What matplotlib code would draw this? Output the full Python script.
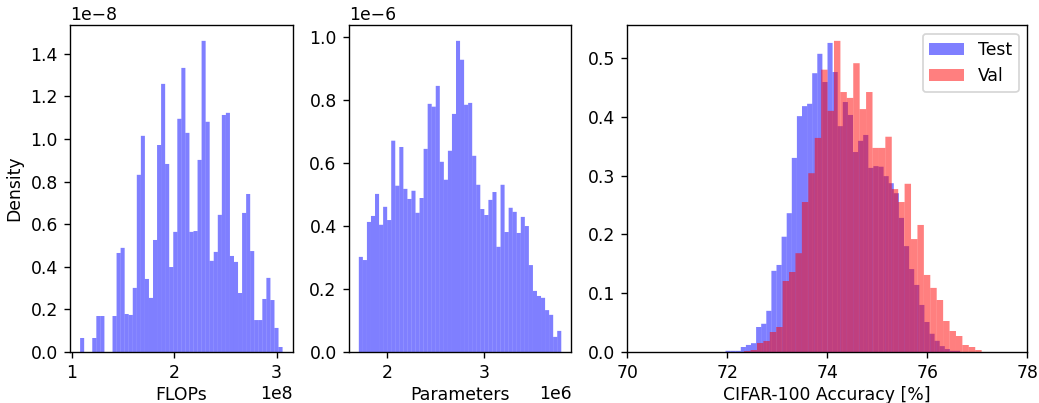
import numpy as np
import matplotlib
matplotlib.use("Agg")
import matplotlib.pyplot as plt

# ---------------- data ----------------
# FLOPs histogram (density, 50 bins)
flops_range = (1.081e8, 3.058e8)
flops_density_e8 = [0.0658, 0, 0, 0.0658, 0.169, 0.169, 0, 0, 0.169, 0.465,
                    0.489, 0.1785, 0.174, 0.301, 0.832, 1.015, 0.343, 0.254, 0.526, 0.972,
                    1.259, 0.883, 0.399, 0.564, 1.095, 1.334, 1.029, 0.564, 0.568, 0.902,
                    1.461, 1.081, 0.428, 0.470, 0.644, 1.113, 1.123, 0.451, 0.423, 0.277,
                    0.653, 0.742, 0.474, 0.150, 0.150, 0.249, 0.348, 0.244, 0.113, 0.0235]

# Parameters histogram (density, 50 bins)
params_range = (1.708e6, 3.794e6)
params_density_e6 = [0.302, 0.292, 0.413, 0.432, 0.502, 0.404, 0.461, 0.419, 0.671, 0.528,
                     0.651, 0.518, 0.486, 0.512, 0.442, 0.489, 0.645, 0.788, 0.779, 0.845,
                     0.604, 0.547, 0.639, 0.756, 0.988, 0.928, 0.785, 0.791, 0.623, 0.531,
                     0.454, 0.435, 0.483, 0.508, 0.334, 0.531, 0.381, 0.458, 0.445, 0.378,
                     0.429, 0.400, 0.276, 0.194, 0.178, 0.172, 0.133, 0.118, 0.048, 0.067]

# CIFAR-100 accuracy histograms (density)
test_range = (71.964, 76.656)
test_density = [0.002, 0.002, 0.002, 0.0085, 0.012, 0.015, 0.0425, 0.048, 0.070, 0.138,
                0.148, 0.196, 0.236, 0.330, 0.401, 0.418, 0.422, 0.474, 0.507, 0.459,
                0.5255, 0.476, 0.384, 0.425, 0.403, 0.340, 0.359, 0.369, 0.313, 0.316,
                0.315, 0.299, 0.287, 0.270, 0.228, 0.180, 0.141, 0.114, 0.080, 0.051,
                0.031, 0.019, 0.010, 0.005, 0.002, 0.002]

val_range = (72.336, 77.087)
val_density = [0.0017, 0.0034, 0.0153, 0.0187, 0.034, 0.0425, 0.1207, 0.136, 0.168, 0.255,
               0.304, 0.364, 0.480, 0.41, 0.529, 0.442, 0.432, 0.491, 0.413, 0.442,
               0.347, 0.347, 0.366, 0.277, 0.255, 0.286, 0.192, 0.216, 0.131, 0.109,
               0.0884, 0.0527, 0.0357, 0.0272, 0.0119, 0.0085, 0.0034]

acc_ticks = [70, 72, 74, 76, 78]
series_labels = ["Test", "Val"]
x_labels = ["FLOPs", "Parameters", "CIFAR-100 Accuracy [%]"]
y_label = "Density"

plt.rcParams["font.size"] = 10


def draw_hist(ax, rng, heights, scale_y, **kw):
    n = len(heights)
    edges = np.linspace(rng[0], rng[1], n + 1)
    centers = 0.5 * (edges[:-1] + edges[1:])
    w = np.asarray(heights, dtype=float) * scale_y
    _, _, patches = ax.hist(centers, bins=edges, weights=w, **kw)
    for p in patches:
        p.set_snap(False)
    return patches


DPI = 124
W, H = 1039, 403
fig = plt.figure(figsize=(W / DPI, H / DPI), dpi=DPI)


def px_axes(x0, x1, ytop, ybot):
    return fig.add_axes([x0 / W, 1 - ybot / H, (x1 - x0) / W, (ybot - ytop) / H])


ax1 = px_axes(70, 292.7, 25.3, 352)
ax2 = px_axes(348.7, 571.4, 25.3, 352)
ax3 = px_axes(627.3, 1027.3, 25.3, 352)

draw_hist(ax1, flops_range, flops_density_e8, 1e-8, color="blue", alpha=0.5)
draw_hist(ax2, params_range, params_density_e6, 1e-6, color="blue", alpha=0.5)
draw_hist(ax3, test_range, test_density, 1, color="blue", alpha=0.5, label=series_labels[0])
draw_hist(ax3, val_range, val_density, 1, color="red", alpha=0.5, label=series_labels[1])

for ax in (ax1, ax2):
    ax.xaxis.OFFSETTEXTPAD = 1.5

ax1.set_xlabel(x_labels[0], labelpad=2.5)
ax2.set_xlabel(x_labels[1], labelpad=2.5)
ax3.set_xlabel(x_labels[2], labelpad=2.5)
ax1.set_ylabel(y_label)
ax3.set_xlim(70, 78)
ax3.set_xticks(acc_ticks)
ax3.legend(loc="upper right")

fig.savefig("out.png", dpi=DPI)
